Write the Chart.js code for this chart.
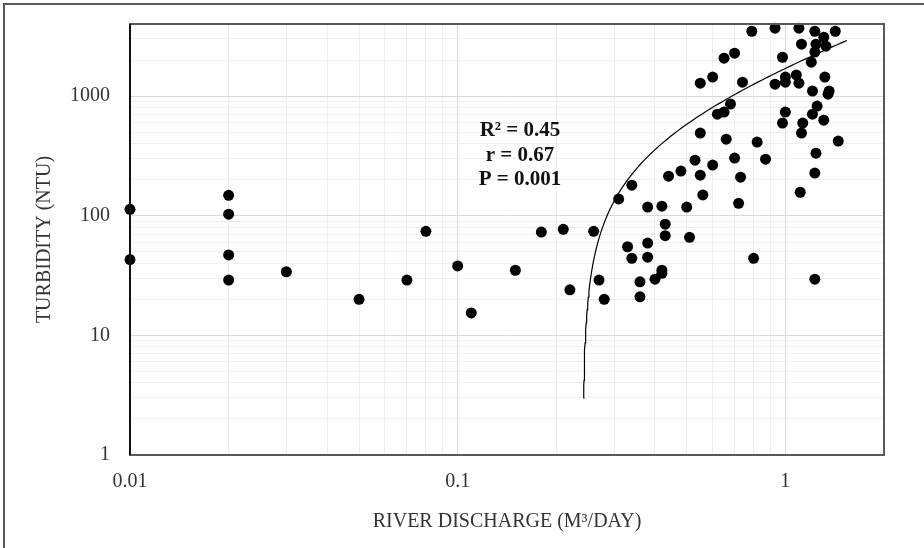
<!DOCTYPE html>
<html>
<head>
<meta charset="utf-8">
<script src="https://cdn.jsdelivr.net/npm/chart.js@4.4.1/dist/chart.umd.min.js"></script>
<style>
  html, body { margin: 0; padding: 0; background: #fff; }
  #wrap { width: 924px; height: 548px; }
</style>
</head>
<body>
<div id="wrap"><canvas id="chart" width="924" height="548" style="width:924px;height:548px"></canvas></div>
<script>
// Расход реки (M3/DAY) и мутность (NTU)
const discharge = [
    0.01, 0.01, 0.02, 0.02, 0.02, 0.02, 0.03, 0.05, 0.07, 0.08,
    0.10, 0.11, 0.15, 0.18, 0.21, 0.22, 0.26, 0.27, 0.28, 0.31,
    0.34, 0.33, 0.34, 0.36, 0.36, 0.38, 0.38, 0.38, 0.40, 0.42,
    0.42, 0.42, 0.43, 0.43, 0.44, 0.48, 0.50, 0.51, 0.53, 0.55,
    0.55, 0.55, 0.56, 0.60, 0.60, 0.62, 0.65, 0.68, 0.65, 0.70,
    0.66, 0.70, 0.73, 0.72, 0.74, 0.79, 0.80, 0.82, 0.87, 0.93,
    0.93, 0.98, 0.98, 1.00, 1.00, 1.00, 1.08, 1.10, 1.10, 1.12,
    1.12, 1.13, 1.11, 1.20, 1.21, 1.21, 1.23, 1.23, 1.24, 1.23,
    1.24, 1.23, 1.25, 1.31, 1.31, 1.32, 1.33, 1.35, 1.36, 1.42,
    1.45
];
const turbidity = [
    113, 43, 148, 103, 47, 29, 34, 20, 29, 74,
    38, 15.4, 35, 73, 77, 24, 74, 29, 20, 138,
    180, 55, 44, 28, 21, 118, 59, 45, 29.5, 35,
    33, 120, 85, 68, 214, 236, 118, 66, 291, 490,
    218, 1280, 149, 1440, 265, 706, 734, 856, 2070, 2280,
    436, 303, 210, 127, 1306, 3480, 44, 412, 297, 3690,
    1257, 2110, 594, 1440, 1306, 734, 1500, 3690, 1280, 2715,
    490, 594, 157, 1920, 1100, 706, 3480, 2330, 2715, 227,
    333, 29.5, 824, 3100, 629, 1440, 2610, 1037, 1100, 3480,
    420
];
const xTicks = [0.01, 0.1, 1];
const yTicks = [1, 10, 100, 1000];
const statsLines = ['R² = 0.45', 'r = 0.67', 'P = 0.001'];

// Линия тренда y = a*x + b, коэффициенты
const trendSlope = 2240;
const trendIntercept = -540;
const trendRange = [0.2424, 1.54];

const FONT = 'Liberation Serif';
const TEXT = '#333';

// точки тренда (на лог. осях прямая выглядит кривой, поэтому гуще у начала)
const trend = [];
for (let i = 0; i <= 120; i++) {
    const t = Math.pow(i / 120, 3);
    const x = trendRange[0] + (trendRange[1] - trendRange[0]) * t;
    trend.push({ x: x, y: trendSlope * x + trendIntercept });
}

function matchTick(v, list) {
    for (const t of list) {
        if (Math.abs(Math.log10(v) - Math.log10(t)) < 1e-6) return t;
    }
    return null;
}
// убираем промежуточные 1.5, 15, 150 ... которые добавляет Chart.js
function keepWhole(scale) {
    scale.ticks = scale.ticks.filter(t => {
        const m = t.value / Math.pow(10, Math.floor(Math.log10(t.value) + 1e-9));
        return Math.abs(m - Math.round(m)) < 1e-6;
    });
}

const framePlugin = {
    id: 'frame',
    beforeDraw(chart) {
        const ctx = chart.ctx;
        ctx.save();
        ctx.fillStyle = '#fff';
        ctx.fillRect(0, 0, chart.width, chart.height);
        ctx.restore();
    },
    afterDraw(chart) {
        const { ctx, chartArea: a } = chart;
        ctx.save();
        // рамка области построения
        ctx.strokeStyle = '#595959';
        ctx.lineWidth = 2;
        ctx.strokeRect(a.left, a.top, a.right - a.left, a.bottom - a.top);
        ctx.strokeStyle = '#111';
        ctx.beginPath();
        ctx.moveTo(a.left, a.top);
        ctx.lineTo(a.left, a.bottom);
        ctx.stroke();
        // внешняя рамка
        ctx.strokeStyle = '#595959';
        ctx.lineWidth = 2;
        ctx.beginPath();
        ctx.moveTo(4, chart.height);
        ctx.lineTo(4, 4);
        ctx.lineTo(chart.width, 4);
        ctx.stroke();
        // статистика
        ctx.fillStyle = '#111';
        ctx.font = 'bold 21px "' + FONT + '"';
        ctx.textAlign = 'center';
        ctx.textBaseline = 'middle';
        statsLines.forEach((s, i) => {
            ctx.fillText(s, a.left + 390, a.top + 107 + i * 24.5);
        });
        ctx.restore();
    }
};

new Chart(document.getElementById('chart'), {
    type: 'scatter',
    data: {
        datasets: [{
            label: 'Turbidity',
            data: discharge.map((x, i) => ({ x: x, y: turbidity[i] })),
            backgroundColor: '#000',
            borderWidth: 0,
            pointRadius: 5.5,
            pointHoverRadius: 5.5,
            clip: false
        }, {
            label: 'Linear trend',
            data: trend,
            showLine: true,
            borderColor: '#000',
            borderWidth: 1.2,
            pointRadius: 0,
            fill: false
        }]
    },
    options: {
        responsive: false,
        animation: false,
        layout: { padding: { top: 24, right: 40, left: 0, bottom: 0 } },
        plugins: {
            legend: { display: false },
            tooltip: { enabled: false }
        },
        scales: {
            x: {
                type: 'logarithmic',
                min: 0.01,
                max: 2,
                afterBuildTicks: keepWhole,
                afterFit(scale) { scale.height = 93; scale.paddingLeft = 0; scale.paddingRight = 0; },
                border: { display: true, color: '#404040', width: 2 },
                grid: {
                    drawTicks: false,
                    color: c => matchTick(c.tick.value, [0.01, 0.1, 1]) ? '#d9d9d9' : '#efefef'
                },
                ticks: {
                    autoSkip: false,
                    maxRotation: 0,
                    padding: 15,
                    color: TEXT,
                    font: { family: FONT, size: 20 },
                    callback: v => { const t = matchTick(v, xTicks); return t === null ? '' : String(t); }
                },
                title: {
                    display: true,
                    text: 'RIVER DISCHARGE (M³/DAY)',
                    color: TEXT,
                    font: { family: FONT, size: 20 },
                    padding: { top: 0, bottom: 14 }
                }
            },
            y: {
                type: 'logarithmic',
                min: 1,
                max: 4000,
                afterBuildTicks: keepWhole,
                afterFit(scale) { scale.width = 130; scale.paddingTop = 0; scale.paddingBottom = 0; },
                border: { display: true, color: '#111', width: 2 },
                grid: {
                    drawTicks: false,
                    color: c => matchTick(c.tick.value, [1, 10, 100, 1000]) ? '#d9d9d9' : '#efefef'
                },
                ticks: {
                    autoSkip: false,
                    padding: 20,
                    color: TEXT,
                    font: { family: FONT, size: 20 },
                    callback: v => { const t = matchTick(v, yTicks); return t === null ? '' : String(t); }
                },
                title: {
                    display: true,
                    text: 'TURBIDITY (NTU)',
                    color: TEXT,
                    font: { family: FONT, size: 20 },
                    padding: { top: 33, bottom: 0 }
                }
            }
        }
    },
    plugins: [framePlugin]
});
</script>
</body>
</html>
